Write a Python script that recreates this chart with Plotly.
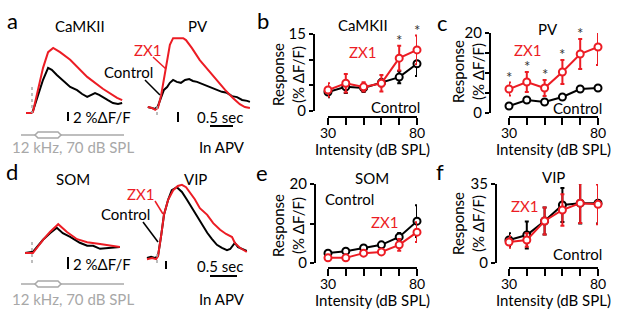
import plotly.graph_objects as go

W, H = 617, 328
RED = "#ec1c24"
GRAY = "#a8a8a8"
FONT = "Lato, Open Sans, sans-serif"
FS = 15

# ---- fluorescence traces (time in s from tone onset, response in %dF/F) ----
camk_red_t = [-0.13, -0.02, 0.02, 0.13, 0.24, 0.35, 0.46, 0.61, 0.83, 1.20, 1.54, 1.85, 1.96]
camk_red_v = [0, 0, 0.2, 4.8, 9.5, 12.8, 13.7, 12.8, 11.2, 7.6, 5.1, 3.2, 2.7]
camk_blk_t = [-0.13, -0.02, 0.02, 0.13, 0.24, 0.35, 0.43, 0.54, 0.61, 0.72, 0.83, 0.98, 1.09,
              1.20, 1.28, 1.37, 1.46, 1.54, 1.65, 1.76, 1.87, 1.96]
camk_blk_v = [0, 0, 0.4, 3.6, 7.0, 9.5, 9.1, 8.0, 7.4, 6.5, 5.5, 4.8, 4.0,
              3.4, 3.8, 4.2, 3.8, 3.4, 2.7, 2.1, 1.9, 2.1]

pvt_red_t = [-0.20, -0.11, -0.04, 0.02, 0.09, 0.15, 0.22, 0.28, 0.35, 0.46, 0.57, 0.63, 0.76,
             0.93, 1.11, 1.30, 1.48, 1.65, 1.80, 1.91, 2.02]
pvt_red_v = [0.2, 0, -0.4, 0, 2.7, 6.3, 10.1, 13.3, 14.7, 14.7, 14.7, 14.3, 12.6,
             10.1, 8.0, 5.9, 3.8, 2.1, 0.8, 0.2, 0]
pvt_blk_t = [-0.20, -0.11, -0.04, 0.02, 0.09, 0.15, 0.22, 0.28, 0.35, 0.43, 0.52, 0.61, 0.70,
             0.78, 0.87, 0.98, 1.09, 1.20, 1.30, 1.41, 1.52, 1.63, 1.74, 1.85, 1.96, 2.02]
pvt_blk_v = [0.2, 0, -0.2, 0.4, 2.3, 3.8, 4.4, 5.3, 5.9, 5.5, 5.3, 5.9, 6.1,
             5.7, 5.5, 5.1, 4.6, 4.2, 3.8, 3.4, 3.2, 2.5, 2.3, 1.7, 1.5, 1.3]

somt_red_t = [-0.15, 0.02, 0.24, 0.39, 0.57, 0.76, 0.98, 1.20, 1.48, 1.70, 1.91]
somt_red_v = [0, 0, 2.2, 3.5, 4.8, 3.5, 2.3, 1.8, 1.5, 1.2, 1.0]
somt_blk_t = [-0.15, 0.02, 0.24, 0.39, 0.54, 0.67, 0.83, 1.04, 1.20, 1.33, 1.48, 1.63, 1.76, 1.91]
somt_blk_v = [0, 0.2, 2.2, 3.3, 4.2, 3.3, 2.7, 1.7, 1.2, 1.2, 0.7, 0.8, 0.8, 1.0]

vipt_red_t = [-0.24, -0.13, -0.04, 0, 0.07, 0.13, 0.22, 0.33, 0.43, 0.52, 0.61, 0.70, 0.80,
              0.91, 1.07, 1.20, 1.35, 1.48, 1.57, 1.61, 1.67, 1.78, 1.93]
vipt_red_v = [-0.2, 0, -0.2, 0.3, 3.8, 7.2, 9.7, 11.3, 12.0, 12.2, 11.8, 10.8, 9.8,
              8.3, 7.2, 5.8, 4.7, 4.0, 3.7, 3.5, 2.5, 1.7, 1.0]
vipt_blk_t = [-0.24, -0.15, -0.07, 0, 0.07, 0.13, 0.22, 0.30, 0.41, 0.52, 0.63, 0.74, 0.85,
              0.96, 1.07, 1.17, 1.28, 1.39, 1.50, 1.57, 1.63, 1.67, 1.74, 1.83, 1.93]
vipt_blk_v = [0, 0.2, 0, 0.3, 3.8, 7.2, 9.7, 11.3, 11.8, 11.0, 9.7, 8.3, 6.8,
              5.5, 4.2, 3.2, 2.2, 1.7, 1.3, 1.5, 2.2, 2.5, 1.8, 1.5, 1.2]

# ---- intensity tuning (mean, sem) ----
levels = [30, 40, 50, 60, 70, 80]
level_text = ["30", "", "", "", "", "80"]

camk_ctrl = [3.7, 4.7, 4.5, 5.5, 6.6, 9.2]
camk_ctrl_err = [1.0, 1.2, 0.8, 0.7, 1.2, 2.4]
camk_zx1 = [4.1, 5.4, 4.7, 5.4, 10.3, 11.9]
camk_zx1_err = [1.3, 1.8, 0.9, 1.6, 2.4, 2.8]
camk_sig = [70, 80]

pv_ctrl = [1.75, 3.25, 2.75, 4.0, 6.0, 6.25]
pv_ctrl_err = [0.4, 0.4, 0.4, 0.5, 0.6, 0.6]
pv_zx1 = [6.0, 7.75, 6.25, 10.25, 14.75, 16.5]
pv_zx1_err = [1.6, 2.5, 2.0, 3.0, 3.75, 4.5]
pv_sig = [30, 40, 50, 60, 70, 80]

som_ctrl = [2.5, 3.0, 3.8, 4.6, 6.6, 10.6]
som_ctrl_err = [0.4, 0.4, 0.5, 0.6, 1.0, 4.0]
som_zx1 = [1.3, 1.3, 2.5, 2.8, 4.6, 7.8]
som_zx1_err = [0.4, 0.4, 0.5, 0.6, 1.5, 2.5]

vip_ctrl = [10.2, 12.4, 18.6, 25.7, 26.5, 26.5]
vip_ctrl_err = [3.0, 6.0, 6.0, 7.5, 9.0, 9.0]
vip_zx1 = [9.3, 10.2, 18.6, 23.5, 26.5, 26.0]
vip_zx1_err = [2.5, 3.0, 6.0, 7.0, 8.8, 8.8]


def px(x):
    return x / W


def py(y):
    return 1 - y / H


fig = go.Figure()
layout = {}
annots = []
shapes = []


def text(x, y, s, size=FS, color="black", anchor="center"):
    annots.append(dict(x=px(x), y=py(y), xref="paper", yref="paper", text=s, showarrow=False,
                       font=dict(size=size, color=color, family=FONT),
                       xanchor=anchor, yanchor="middle"))


def seg(x0, y0, x1, y1, color="black", width=2, dash=None):
    shapes.append(dict(type="line", xref="paper", yref="paper", x0=px(x0), y0=py(y0),
                       x1=px(x1), y1=py(y1), line=dict(color=color, width=width, dash=dash)))


# trace panels: axis n, pixel box, onset pixel, px per second, px per %dF/F
trace_panels = [
    (1, (20, 130, 30, 125), (32, 113), 46, 4.75, camk_blk_t, camk_blk_v, camk_red_t, camk_red_v),
    (2, (140, 258, 30, 125), (157, 108), 46, 4.75, pvt_blk_t, pvt_blk_v, pvt_red_t, pvt_red_v),
    (3, (20, 130, 180, 272), (32, 253), 46, 6.0, somt_blk_t, somt_blk_v, somt_red_t, somt_red_v),
    (4, (140, 258, 180, 272), (158, 258), 46, 6.0, vipt_blk_t, vipt_blk_v, vipt_red_t, vipt_red_v),
]
for n, (xa, xb, ya, yb), (x0, y0), pps, ppv, bt, bv, rt, rv in trace_panels:
    for t, v, c in ((bt, bv, "black"), (rt, rv, RED)):
        fig.add_trace(go.Scatter(x=t, y=v, mode="lines", line=dict(color=c, width=2),
                                 xaxis=f"x{n}", yaxis=f"y{n}", showlegend=False))
    layout[f"xaxis{n}"] = dict(domain=[px(xa), px(xb)], range=[(xa - x0) / pps, (xb - x0) / pps],
                               visible=False, anchor=f"y{n}", automargin=False)
    layout[f"yaxis{n}"] = dict(domain=[py(yb), py(ya)], range=[(y0 - yb) / ppv, (y0 - ya) / ppv],
                               visible=False, anchor=f"x{n}", automargin=False)

# tuning panels: axis n, x px box, y px box, y-axis x px, x-axis y px, range, tickvals, ticktext
tuning_panels = [
    (5, (328, 417), (34, 111), 314, 117, 15, [0, 5, 10, 15], ["0", "", "", "15"],
     camk_ctrl, camk_ctrl_err, camk_zx1, camk_zx1_err, camk_sig),
    (6, (509, 598), (33, 113), 490, 117, 20, [0, 5, 10, 15, 20], ["0", "", "", "", "20"],
     pv_ctrl, pv_ctrl_err, pv_zx1, pv_zx1_err, pv_sig),
    (7, (328, 417), (184, 263), 315, 268, 20, [0, 10, 20], ["0", "", "20"],
     som_ctrl, som_ctrl_err, som_zx1, som_zx1_err, []),
    (8, (509, 598), (184, 263), 496, 268, 35, [0, 35], ["0", "35"],
     vip_ctrl, vip_ctrl_err, vip_zx1, vip_zx1_err, []),
]
for n, (xa, xb), (ya, yb), yx, xy, ymax, tv, tt, cm, ce, zm, ze, sig in tuning_panels:
    for m, e, c in ((cm, ce, "black"), (zm, ze, RED)):
        fig.add_trace(go.Scatter(
            x=levels, y=m, mode="lines+markers", xaxis=f"x{n}", yaxis=f"y{n}",
            line=dict(color=c, width=2),
            marker=dict(symbol="circle", size=7, color="white", line=dict(color=c, width=2)),
            error_y=dict(type="data", array=e, color=c, thickness=2, width=2),
            cliponaxis=False, showlegend=False))
    for lv in sig:
        i = levels.index(lv)
        annots.append(dict(x=lv, y=zm[i] + ze[i], xref=f"x{n}", yref=f"y{n}", text="*",
                           showarrow=False, yanchor="middle", yshift=6,
                           font=dict(size=FS, color="#333333", family=FONT)))
    # x tick labels placed just under the tick marks
    for lv, lt in zip(levels, level_text):
        if lt:
            annots.append(dict(x=lv, y=py(xy + 15), xref=f"x{n}", yref="paper", text=lt,
                               showarrow=False, yanchor="middle", borderpad=0,
                               font=dict(size=14, color="black", family=FONT)))
    layout[f"xaxis{n}"] = dict(domain=[px(xa), px(xb)], range=[30, 80], anchor="free",
                               position=py(xy), tickvals=levels, showticklabels=False,
                               ticks="outside", ticklen=7, tickwidth=2, tickcolor="black",
                               showline=True, linewidth=2, linecolor="black", showgrid=False,
                               zeroline=False, automargin=False)
    layout[f"yaxis{n}"] = dict(domain=[py(yb), py(ya)], range=[0, ymax], anchor="free",
                               position=px(yx), tickvals=tv, ticktext=tt,
                               ticks="outside", ticklen=4, tickwidth=1.5, tickcolor="black",
                               showline=True, linewidth=2, linecolor="black", showgrid=False,
                               zeroline=False, automargin=False,
                               tickfont=dict(size=FS, family=FONT, color="black"))
    cx = (xa + xb) / 2
    text(cx, xy + 32, "Intensity (dB SPL)")

# y-axis titles
for x, y in ((288, 75), (468, 72), (288, 226), (468, 224)):
    annots.append(dict(x=px(x), y=py(y), xref="paper", yref="paper",
                       text="Response<br>(% ΔF/F)", textangle=-90, showarrow=False,
                       font=dict(size=FS, family=FONT, color="black"),
                       xanchor="center", yanchor="middle"))

# panel letters
for s, x, y in (("a", 12, 21), ("b", 263, 21), ("c", 442, 22),
                ("d", 12, 171), ("e", 262, 172), ("f", 440, 171)):
    text(x, y, s, size=22)

# titles
for s, x, y in (("CaMKII", 80, 26), ("PV", 198, 26), ("SOM", 73, 179), ("VIP", 195, 179),
                ("CaMKII", 363, 25), ("PV", 548, 29), ("SOM", 372, 178), ("VIP", 553, 177)):
    text(x, y, s)

# condition labels
for s, x, y, c in (("ZX1", 147, 50, RED), ("Control", 128, 72, "black"),
                   ("ZX1", 140, 194, RED), ("Control", 125, 214, "black"),
                   ("ZX1", 362, 52, RED), ("Control", 395, 107, "black"),
                   ("ZX1", 527, 50, RED), ("Control", 577, 108, "black"),
                   ("Control", 349, 199, "black"), ("ZX1", 384, 222, RED),
                   ("ZX1", 524, 206, RED), ("Control", 577, 254, "black")):
    text(x, y, s, color=c)

# pointer lines
seg(153, 57, 166, 69, RED, 1.5)
seg(145, 80, 160, 95, "black", 1.5)
seg(155, 201, 163, 214, RED, 1.5)
seg(143, 222, 158, 242, "black", 1.5)

# onset markers
for x, y0, y1 in ((32, 87, 113), (157, 106, 115), (32, 242, 264), (157, 254, 265)):
    seg(x, y0, x, y1, GRAY, 1.5, "dot")

# scale bars
for xb, y0, y1, ty in ((68, 112, 121, 117), (68, 257, 269, 264)):
    seg(xb, y0, xb, y1)
    text(71, ty, "2 %ΔF/F", anchor="left")
for xb, y0, y1 in ((178, 112, 122), (166, 261, 269)):
    seg(xb, y0, xb, y1)
for ty, by, x0, x1, ay in ((117, 126, 210, 233, 147), (266, 276, 210, 237, 299)):
    text(220, ty, "0.5 sec")
    seg(x0, by, x1, by)
    text(222, ay, "In APV")

# tone stimulus
for ly, ty in ((135, 147), (284, 299)):
    seg(21, ly, 124, ly, GRAY, 1.5)
    pts = [(35, ly), (38, ly - 3), (58, ly - 3), (61, ly), (58, ly + 3), (38, ly + 3)]
    path = "M" + " L".join(f"{px(a):.5f},{py(b):.5f}" for a, b in pts) + " Z"
    shapes.append(dict(type="path", xref="paper", yref="paper", path=path,
                       fillcolor="white", line=dict(color=GRAY, width=1.5)))
    text(73, ty, "12 kHz, 70 dB SPL", color=GRAY)

fig.update_layout(width=W, height=H, margin=dict(l=0, r=0, t=0, b=0, autoexpand=False),
                  paper_bgcolor="white", plot_bgcolor="white",
                  font=dict(family=FONT, color="black"),
                  annotations=annots, shapes=shapes, showlegend=False, **layout)
fig.write_html("out.html", config={"displayModeBar": False},
               post_script="document.body.style.margin='0';")
